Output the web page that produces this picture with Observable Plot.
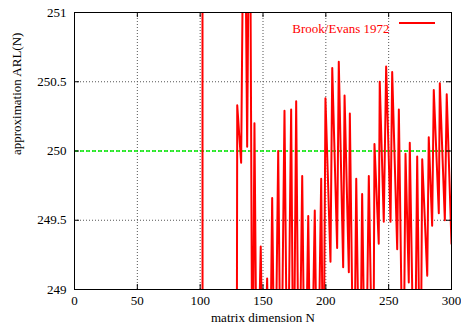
<!DOCTYPE html>
<html>
<head>
<meta charset="utf-8">
<script src="https://cdn.jsdelivr.net/npm/d3@7"></script>
<script src="https://cdn.jsdelivr.net/npm/@observablehq/plot@0.6"></script>
<style>
  html, body { margin: 0; padding: 0; background: #fff; }
</style>
</head>
<body>
<div id="chart"></div>
<script>
// Matrix dimension N (vertices of the plotted curve)
const N = [95, 101.8, 102.0, 128.9, 129.5, 132.6, 135.1, 137.4, 139.4, 141.6, 143.2, 145.2, 148.2, 150.4,
  153.3, 155.2, 157.3, 159.5, 162.1, 164.3, 167.1, 169.5, 172.4, 174.3, 176.4, 178.6, 181.2, 183.4, 186.0,
  188.2, 191.2, 193.4, 196.3, 198.1, 199.7, 203.7, 205.1, 209.0, 210.3, 213.8, 214.9, 218.3, 219.1, 222.3,
  224.2, 227.0, 228.9, 231.6, 234.2, 237.7, 238.7, 242.1, 242.9, 246.1, 248.0, 251.5, 252.8, 256.8, 258.1,
  261.6, 263.4, 266.0, 266.8, 270.6, 272.7, 275.3, 276.7, 280.7, 281.9, 284.6, 285.9, 289.9, 290.7, 294.7,
  296.2, 300];
// Approximation ARL(N), Brook/Evans 1972
const ARL = [253.5, 253.5, 244, 247, 250.33, 249.915, 252.5, 250.03, 252.5, 248, 250.20, 248, 249.31, 248,
  249.08, 248, 249.66, 248, 250.0, 248, 250.29, 248, 250.30, 248, 250.36, 248, 249.82, 248, 249.53,
  248, 249.57, 248, 249.80, 248, 250.38, 249.20, 250.60, 249.30, 250.645, 249.16, 250.40, 249.125, 250.27, 248,
  249.80, 248, 249.69, 248, 249.82, 248, 250.05, 249.33, 250.50, 249.49, 250.61, 249.49, 250.57, 249.29, 250.30,
  248, 249.98, 249.05, 250.06, 248, 249.96, 248, 249.94, 249.10, 250.10, 249.46, 250.44, 249.55, 250.49, 249.50,
  250.41, 249.33];
const target = [250];
const xTicks = [0, 50, 100, 150, 200, 250, 300];
const yTicks = [249, 249.5, 250, 250.5, 251];
const seriesName = "Brook/Evans 1972";
const xLabel = "matrix dimension N";
const yLabel = "approximation ARL(N)";

const data = N.map((n, i) => ({N: n, ARL: ARL[i]}));
const plotW = 461 - 74 - 10, plotH = 326 - 12 - 37;

const chart = Plot.plot({
  width: 461,
  height: 326,
  marginLeft: 74,
  marginRight: 10,
  marginTop: 12,
  marginBottom: 37,
  style: {fontFamily: "'Liberation Serif', 'DejaVu Serif', serif", fontSize: "13px", background: "#fff", color: "#000"},
  x: {domain: [0, 300]},
  y: {domain: [249, 251]},
  marks: [
    Plot.gridX(xTicks.slice(1, -1), {stroke: "#555", strokeOpacity: 1, strokeDasharray: "1,2"}),
    Plot.gridY(yTicks.slice(1, -1), {stroke: "#555", strokeOpacity: 1, strokeDasharray: "1,2"}),
    Plot.ruleY(target, {stroke: "#00ee00", strokeWidth: 1.5, strokeDasharray: "4,2"}),
    Plot.line(data, {x: "N", y: "ARL", stroke: "#ff0000", strokeWidth: 2, clip: true}),
    Plot.tickX(xTicks, {x: d => d, stroke: "#000", insetTop: plotH - 5}),
    Plot.tickX(xTicks, {x: d => d, stroke: "#000", insetBottom: plotH - 5}),
    Plot.tickY(yTicks, {y: d => d, stroke: "#000", insetRight: plotW - 5}),
    Plot.tickY(yTicks, {y: d => d, stroke: "#000", insetLeft: plotW - 5}),
    Plot.frame({stroke: "#000"}),
    Plot.axisX(xTicks, {tickSize: 0, tickPadding: 6, label: null, tickFormat: d => String(d)}),
    Plot.axisY(yTicks, {tickSize: 0, tickPadding: 8, label: null, tickFormat: d => String(d)}),
    Plot.text([xLabel], {frameAnchor: "bottom", dy: 32, fill: "#000"}),
    Plot.text([yLabel], {frameAnchor: "left", dx: -58, dy: 4, rotate: -90, fill: "#000"}),
    Plot.text([seriesName], {frameAnchor: "top-right", dx: -62, dy: 11, textAnchor: "end", fill: "#ff0000"})
  ]
});

// legend line sample
d3.select(chart).append("line")
  .attr("x1", 399).attr("x2", 435).attr("y1", 23).attr("y2", 23)
  .attr("stroke", "#ff0000").attr("stroke-width", 2);

document.getElementById("chart").appendChild(chart);
</script>
</body>
</html>
